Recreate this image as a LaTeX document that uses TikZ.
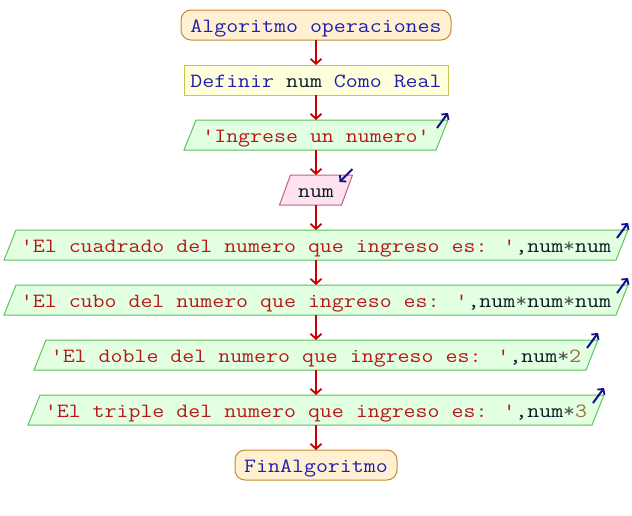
\documentclass[tikz,border=0pt]{standalone}
\usepackage{fontspec}
\newfontfamily\cour[Ligatures=TeXOff,FakeStretch=1.15]{Latin Modern Mono}
\usetikzlibrary{arrows.meta,calc,backgrounds}
\definecolor{kwc}{HTML}{1F1FB0}
\definecolor{idc}{HTML}{0C1A28}
\definecolor{strc}{HTML}{B81818}
\definecolor{opc}{HTML}{505050}
\definecolor{numc}{HTML}{9C7040}
\definecolor{termfill}{HTML}{FFF0D2}
\definecolor{termdraw}{HTML}{C8882E}
\definecolor{deffill}{HTML}{FFFFDC}
\definecolor{defdraw}{HTML}{C8C850}
\definecolor{iofill}{HTML}{E2FFE2}
\definecolor{iodraw}{HTML}{58C058}
\definecolor{rdfill}{HTML}{FFE2F0}
\definecolor{rddraw}{HTML}{C06088}
\definecolor{flowc}{HTML}{CC0000}
\definecolor{bluec}{HTML}{10108C}
\newcommand\tkw[1]{\textcolor{kwc}{#1}}
\newcommand\tid[1]{\textcolor{idc}{#1}}
\newcommand\tstr[1]{\textcolor{strc}{#1}}
\newcommand\tops[1]{\textcolor{opc}{#1}}
\newcommand\tnum[1]{\textcolor{numc}{#1}}
\newcommand\slantbox[3]{%
  \path[#3] ($(#1.north west)+(#2,0)$) -- (#1.north east) -- ($(#1.south east)+(-#2,0)$) -- (#1.south west) -- cycle;}
\begin{document}
\begin{tikzpicture}[x=1pt,y=-1pt,
  lbl/.style={inner sep=0pt, outer sep=0pt, font=\cour\fontsize{20.2pt}{24pt}\selectfont, text height=15pt, text depth=1pt, minimum height=30pt},
  term/.style={lbl, draw=termdraw, fill=termfill, line width=1pt, rounded corners=10pt},
  defbox/.style={lbl, draw=defdraw, fill=deffill, line width=1pt},
  iobox/.style={draw=iodraw, fill=iofill, line width=1pt},
  rdbox/.style={draw=rddraw, fill=rdfill, line width=1pt},
  flow/.style={draw=flowc, line width=2pt, -{Straight Barb[length=5pt,width=11pt,line width=1.8pt]}},
  marker/.style={draw=bluec, line width=2pt, -{Straight Barb[length=4pt,width=9pt,line width=1.8pt]}}
]
\useasboundingbox (0,0) rectangle (632,515);
\node[term, minimum width=270pt] (start) at (316,25) {\tkw{Algoritmo operaciones}};
\node[defbox, minimum width=264pt] (def) at (316,80) {\tkw{Definir} \tid{num} \tkw{Como Real}};
\node[lbl, minimum width=264pt] (in1) at (316,135) {\tstr{'Ingrese un numero'}};
\node[lbl, minimum width=73pt] (rd) at (316,190) {\tid{num}};
\node[lbl, minimum width=624pt] (o1) at (316,245) {\tstr{'El cuadrado del numero que ingreso es: '}\tid{,num}\tops{*}\tid{num}};
\node[lbl, minimum width=624pt] (o2) at (316,300) {\tstr{'El cubo del numero que ingreso es: '}\tid{,num}\tops{*}\tid{num}\tops{*}\tid{num}};
\node[lbl, minimum width=564pt] (o3) at (316,355) {\tstr{'El doble del numero que ingreso es: '}\tid{,num}\tops{*}\tnum{2}};
\node[lbl, minimum width=576pt] (o4) at (316,410) {\tstr{'El triple del numero que ingreso es: '}\tid{,num}\tops{*}\tnum{3}};
\node[term, minimum width=162pt] (fin) at (316,465) {\tkw{FinAlgoritmo}};
\begin{scope}[on background layer]
  \slantbox{in1}{12}{iobox}
  \slantbox{rd}{11}{rdbox}
  \slantbox{o1}{12}{iobox}
  \slantbox{o2}{12}{iobox}
  \slantbox{o3}{12}{iobox}
  \slantbox{o4}{12}{iobox}
\end{scope}
\draw[flow] (start) -- (def);
\draw[flow] (def) -- (in1);
\draw[flow] (in1) -- (rd);
\draw[flow] (rd) -- (o1);
\draw[flow] (o1) -- (o2);
\draw[flow] (o2) -- (o3);
\draw[flow] (o3) -- (o4);
\draw[flow] (o4) -- (fin);
\draw[marker] ($(in1.north east)+(-11,8)$) -- ($(in1.north east)+(0,-7)$);
\draw[marker] ($(rd.north east)+(0,-6)$) -- ($(rd.north east)+(-13,7)$);
\draw[marker] ($(o1.north east)+(-11,8)$) -- ($(o1.north east)+(0,-7)$);
\draw[marker] ($(o2.north east)+(-11,8)$) -- ($(o2.north east)+(0,-7)$);
\draw[marker] ($(o3.north east)+(-11,8)$) -- ($(o3.north east)+(0,-7)$);
\draw[marker] ($(o4.north east)+(-11,8)$) -- ($(o4.north east)+(0,-7)$);
\end{tikzpicture}
\end{document}
